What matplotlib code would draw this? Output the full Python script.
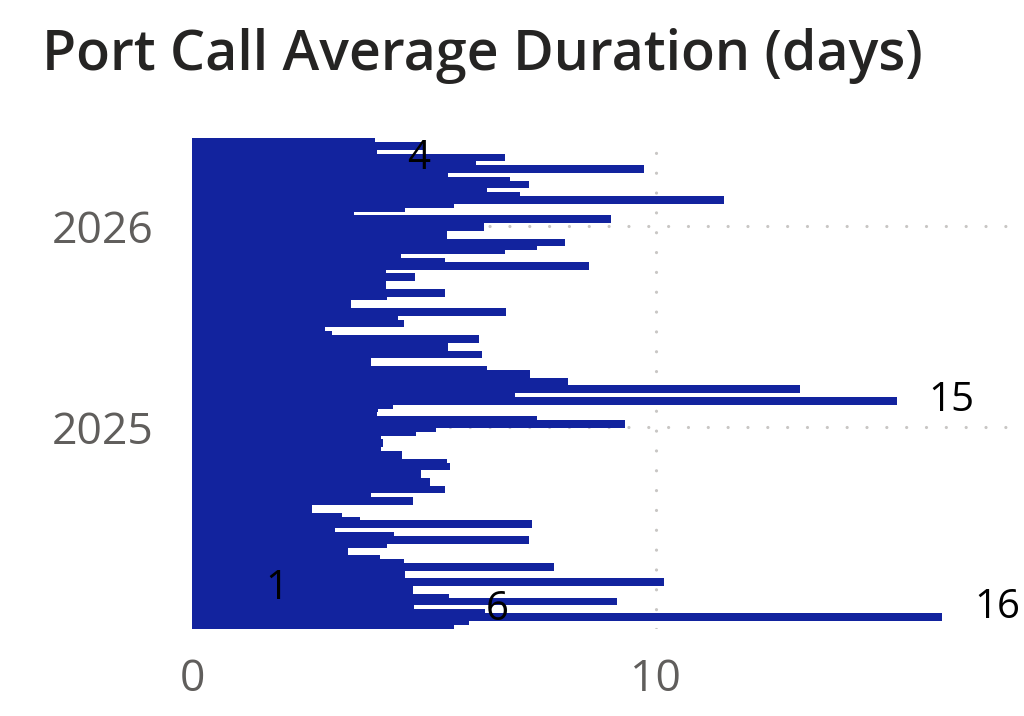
import pandas as pd
import matplotlib.pyplot as plt
import matplotlib.dates as mdates

# Port call average duration (days) per week, oldest week first
first_week = '2024-01-09'
avg_days = [
    5.65, 5.97, 16.18, 6.32, 4.79, 4.79, 9.16, 5.54, 4.46, 4.76,
    0.88, 10.18, 4.05, 4.59, 4.59, 7.81, 4.57, 4.05, 2.91, 3.36,
    3.36, 4.20, 7.27, 4.35, 2.50, 3.08, 7.33, 3.62, 3.23, 2.58,
    2.58, 2.09, 4.76, 3.86, 3.86, 5.45, 5.13, 5.13, 4.48, 4.94,
    4.59, 5.56, 5.50, 4.53, 4.53, 4.07, 2.63, 4.12, 4.07, 3.08,
    4.83, 5.26, 9.34, 7.44, 3.99, 3.62, 4.01, 4.33, 15.20, 6.96,
    6.96, 13.11, 3.47, 8.11, 5.09, 7.29, 6.36, 3.86, 3.86, 2.63,
    6.25, 3.90, 5.52, 4.22, 6.19, 3.02, 2.87, 2.76, 4.57, 2.56,
    4.44, 6.77, 3.43, 3.43, 3.06, 4.20, 5.45, 2.87, 4.18, 4.18,
    4.81, 3.49, 4.18, 8.56, 5.45, 4.50, 3.91, 6.75, 7.45, 8.04,
    4.85, 5.50, 4.29, 6.30, 6.30, 9.03, 3.49, 3.48, 4.59, 5.65,
    11.47, 7.07, 6.36, 6.30, 7.27, 6.86, 5.48, 5.53, 9.75, 6.12,
    6.10, 6.75, 3.99, 3.75, 4.99, 3.94,
]
year_ticks = ['2025-01-01', '2026-01-01']
year_labels = ['2025', '2026']
x_ticks = [0, 10]

weeks = pd.date_range(first_week, periods=len(avg_days), freq='7D')
y = mdates.date2num(weeks.to_pydatetime())

BLUE = '#12239E'
GREY = '#605E5C'
GRID = '#C8C6C4'

plt.rcParams['font.family'] = ['Open Sans', 'DejaVu Sans']

fig = plt.figure(figsize=(10.24, 7.16), dpi=100)
ax = fig.add_axes([0.1876, 0.1221, 0.8036, 0.6848])

# bars are two weeks thick, newer weeks drawn on top (power bi look)
ax.barh(y, avg_days, height=14, color=BLUE, linewidth=0, zorder=2)

ax.set_xlim(0, 17.75)
ax.set_ylim(y[0] - 7, y[-1] + 7)

ax.set_xticks(x_ticks)
ax.set_xticklabels([str(t) for t in x_ticks])
ax.set_yticks(mdates.date2num(pd.to_datetime(year_ticks).to_pydatetime()))
ax.set_yticklabels(year_labels)
ax.tick_params(axis='x', length=0, pad=21, labelsize=32, labelcolor=GREY)
ax.tick_params(axis='y', length=0, pad=28, labelsize=32, labelcolor=GREY)

ax.set_axisbelow(True)
ax.grid(True, color=GRID, linewidth=2.3, linestyle=(0, (0.01, 6.2)),
        dash_capstyle='round')
for sp in ax.spines.values():
    sp.set_visible(False)

# data labels: first, last, min and the two largest weeks
order = sorted(range(len(avg_days)), key=lambda i: avg_days[i])
n = len(avg_days)
label_shift = {0: 15, n - 1: -17, order[0]: -3, order[-1]: 9, order[-2]: 0}
for i, dy in label_shift.items():
    ax.annotate(f'{avg_days[i]:.0f}', (avg_days[i], y[i]),
                xytext=(32, dy), textcoords='offset pixels',
                ha='left', va='center', fontsize=29, color='black',
                annotation_clip=False, zorder=5)

fig.text(42 / 1024, 1 - 70 / 716, 'Port Call Average Duration (days)',
         fontsize=40, fontweight='semibold', color='#252423', va='baseline')

fig.savefig('out.png', dpi=100)
